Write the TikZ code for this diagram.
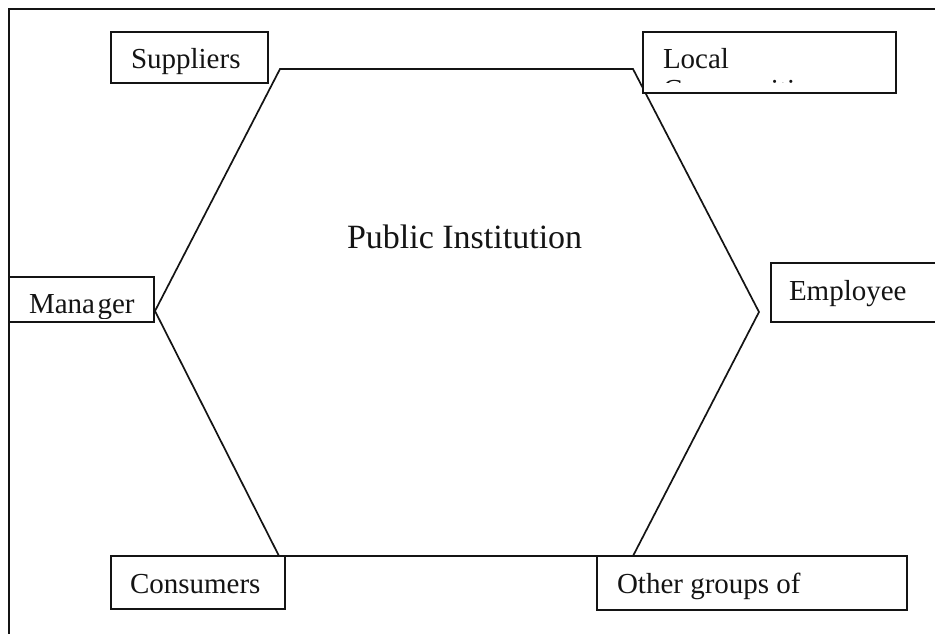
\documentclass[tikz,border=0pt]{standalone}
\usepackage{fontspec}
\setmainfont{Liberation Serif}
\begin{document}
\begin{tikzpicture}[x=1pt,y=-1pt,
  frame/.style={draw=black!92, line width=2.8pt},
  hexline/.style={draw=black!92, line width=1.7pt, line join=miter},
  box/.style={draw=black!92, line width=1.9pt, fill=white},
  lbl/.style={inner sep=0pt, outer sep=0pt, anchor=base west, text=black!92, font=\fontsize{29}{31}\selectfont},
  title/.style={inner sep=0pt, outer sep=0pt, anchor=base west, text=black!92, font=\fontsize{34}{36}\selectfont}]
\useasboundingbox (0,0) rectangle (935,634);
% frame
\draw[frame] (9,640) -- (9,9) -- (945,9);
% hexagon
\coordinate (h1) at (280,69);
\coordinate (h2) at (633,69);
\coordinate (h3) at (759,312);
\coordinate (h4) at (633,556);
\coordinate (h5) at (279,556);
\coordinate (h6) at (155,311);
\draw[hexline] (h1) -- (h2) -- (h3) -- (h4) -- (h5) -- (h6) -- cycle;
\node[title] (pi) at (347,248) {Public Institution};
% boxes
\draw[box] (111,32) rectangle (268,83);
\draw[box] (643,32) rectangle (896,93);
\draw[box] (9,277) rectangle (154,322);
\draw[box] (771,263) rectangle (945,322);
\draw[box] (111,556) rectangle (285,609);
\draw[box] (597,556) rectangle (907,610);
% labels
\node[lbl] (sup) at (131,69) {Suppliers};
\begin{scope}
  \clip (643,32) rectangle (896,83);
  \node[lbl] (loc) at (663,69) {Local};
  \node[lbl] (com) at (663,99.6) {Communities};
\end{scope}
\begin{scope}
  \clip (10,278) rectangle (153,318);
  \node[lbl] (man) at (29,313) {Mana\kern2.5pt ger};
\end{scope}
\node[lbl] (emp) at (789,300) {Employee};
\node[lbl] (con) at (130,593) {Consumers};
\begin{scope}
  \clip (598,557) rectangle (906,609);
  \node[lbl] (oth) at (617,593) {Other groups of};
\end{scope}
\end{tikzpicture}
\end{document}
